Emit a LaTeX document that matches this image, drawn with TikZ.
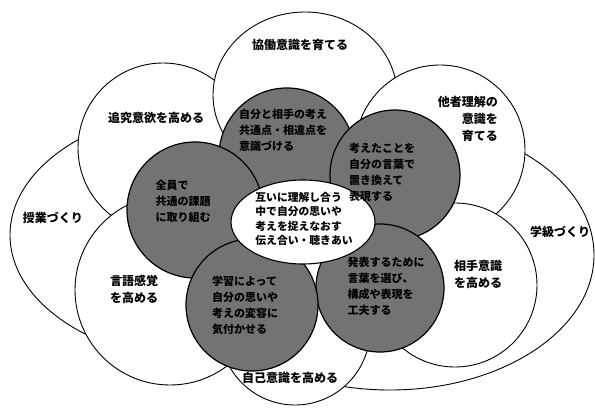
\documentclass[tikz,border=0pt]{standalone}
\usepackage{fontspec}
\newfontfamily\jp{Noto Sans CJK JP}
\usetikzlibrary{shapes.geometric}
\begin{document}
\begin{tikzpicture}[x=1pt,y=-1pt,
  petal/.style={draw=black,line width=0.9pt,fill=white,circle,inner sep=0pt},
  petale/.style={draw=black,line width=0.9pt,fill=white,ellipse,inner sep=0pt},
  grayc/.style={draw=black,line width=1.2pt,fill=black!55,circle,inner sep=0pt},
  centre/.style={draw=black,line width=1.1pt,fill=white,ellipse,inner sep=0pt},
  lbl/.style={font=\jp\bfseries\fontsize{12}{17}\selectfont,align=center,inner sep=0pt},
  gtxt/.style={font=\jp\bfseries\fontsize{11}{16}\selectfont,align=left,inner sep=0pt},
  ctxt/.style={font=\jp\bfseries\fontsize{10.8}{14.5}\selectfont,align=left,inner sep=0pt}]
\useasboundingbox[fill=white] (0,0) rectangle (595,417);
% big outer ellipses
\node[petale,minimum width=410pt,minimum height=256pt] (bigL) at (215,235) {};
\node[petale,minimum width=408pt,minimum height=270pt] (bigR) at (390,255) {};
% petals
\node[petal,minimum size=170pt] (pUL) at (163,148) {};
\node[petale,minimum width=184pt,minimum height=166pt] (pT) at (305,95) {};
\node[petal,minimum size=170pt] (pUR) at (440,150) {};
\node[petal,minimum size=190pt] (pLL) at (170,290) {};
\node[petal,minimum size=164pt] (pLR) at (455,285) {};
\node[petal,minimum size=150pt] (pB) at (295,330) {};
% gray circles
\node[grayc,minimum size=136pt] (gT) at (287,156) {};
\node[grayc,minimum size=130pt] (gUR) at (395,175) {};
\node[grayc,minimum size=136pt] (gL) at (195,210) {};
\node[grayc,minimum size=128pt] (gLR) at (380,288) {};
\node[grayc,minimum size=132pt] (gLL) at (252,305) {};
% centre ellipse
\node[centre,minimum width=144pt,minimum height=84pt] (cE) at (303,222) {};
% labels
\node[lbl] (tT) at (300,45) {協働意識を育てる};
\node[lbl] (tUL) at (156,118) {追究意欲を高める};
\node[lbl,align=right,anchor=north east] (tUR) at (498,96) {他者理解の\hspace{11pt}\\意識を\\育てる};
\node[lbl] (tL) at (53,218) {授業づくり};
\node[lbl] (tR) at (560,232) {学級づくり};
\node[lbl] (tLL) at (134,289) {言語感覚\\を高める};
\node[lbl] (tLR) at (478,274) {相手意識\\を高める};
\node[lbl] (tB) at (290,378) {自己意識を高める};
% centre text
\node[ctxt] (tC) at (304,219) {互いに理解し合う\\中で自分の思いや\\考えを捉えなおす\\伝え合い・聴きあい};
% gray texts
\node[gtxt] (gtT) at (283,130) {自分と相手の考え\\共通点・相違点を\\意識づける};
\node[gtxt] (gtUR) at (382,172) {考えたことを\\自分の言葉で\\置き換えて\\表現する};
\node[gtxt] (gtL) at (183,201) {全員で\\共通の課題\\に取り組む};
\node[gtxt] (gtLR) at (386,286) {発表するために\\言葉を選び、\\構成や表現を\\工夫する};
\node[gtxt] (gtLL) at (245,305) {学習によって\\自分の思いや\\考えの変容に\\気付かせる};
\end{tikzpicture}
\end{document}
